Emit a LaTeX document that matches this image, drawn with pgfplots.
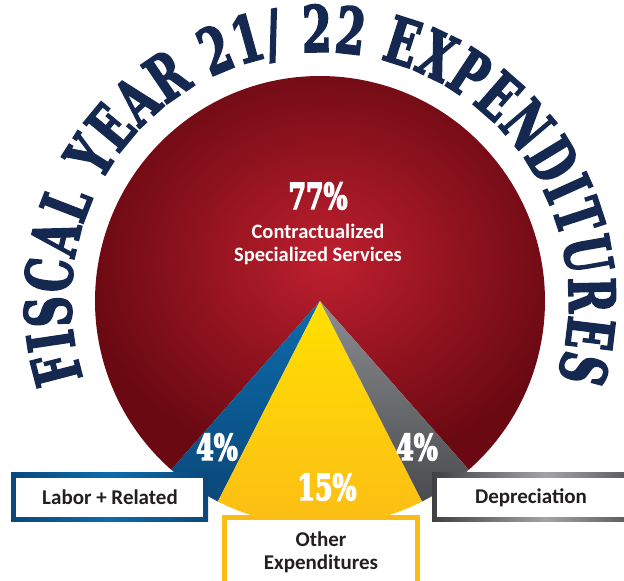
\documentclass[border=0pt]{standalone}
\usepackage{pgfplots}
\pgfplotsset{compat=1.18}
\usepackage{fontspec}
\setmainfont{Carlito}
\newfontfamily\slabfont[FakeStretch=0.7, FakeBold=3.5]{DejaVu Serif Bold}
\newfontfamily\titlefont[FakeStretch=0.66, FakeBold=2.5]{DejaVu Serif Bold}
\usetikzlibrary{decorations.text}

\definecolor{navy}{RGB}{20,40,80}
\definecolor{redin}{RGB}{190,31,46}
\definecolor{redout}{RGB}{106,9,18}
\definecolor{bluetop}{RGB}{12,108,172}
\definecolor{bluebot}{RGB}{11,72,122}
\definecolor{yeltop}{RGB}{255,224,0}
\definecolor{yelbot}{RGB}{252,188,22}
\definecolor{greytop}{RGB}{140,141,144}
\definecolor{greybot}{RGB}{74,75,78}
\definecolor{ink}{RGB}{35,31,32}

% shares in percent
\def\pContract{77}
\def\pLabor{4}
\def\pOther{15}
\def\pDepr{4}

\begin{document}
\begin{tikzpicture}
% Other Expenditures is centred at the bottom, the rest follow round
\pgfmathsetmacro\aOtherS{270-\pOther*1.8}
\pgfmathsetmacro\aOtherE{270+\pOther*1.8}
\pgfmathsetmacro\aLaborS{\aOtherS-\pLabor*3.6}
\pgfmathsetmacro\aDeprE{\aOtherE+\pDepr*3.6}
\pgfmathsetmacro\aContrE{\aDeprE+\pContract*3.6}
\def\R{225pt}
\begin{axis}[
    name=ax,
    x=1pt, y=1pt,
    xmin=0, xmax=624, ymin=0, ymax=581,
    scale only axis,
    hide axis,
]
% wedges
\shade[inner color=redin, outer color=redout]
    (axis cs:320,280) -- ++(\aDeprE:\R) arc[start angle=\aDeprE, end angle=\aContrE, radius=\R] -- cycle;
\shade[top color=bluetop, bottom color=bluebot]
    (axis cs:320,280) -- ++(\aLaborS:\R) arc[start angle=\aLaborS, end angle=\aOtherS, radius=\R] -- cycle;
\shade[top color=yeltop, bottom color=yelbot]
    (axis cs:320,280) -- ++(\aOtherS:\R) arc[start angle=\aOtherS, end angle=\aOtherE, radius=\R] -- cycle;
\shade[top color=greytop, bottom color=greybot]
    (axis cs:320,280) -- ++(\aOtherE:\R) arc[start angle=\aOtherE, end angle=\aDeprE, radius=\R] -- cycle;

% title round the top
\path[decorate, decoration={text along path, text color=navy,
    text={|\titlefont\fontsize{64}{68}\selectfont|FISCAL YEAR 21/ 22 EXPENDITURES},
    text align=fit to path}]
    (axis cs:320,280) ++(198:249pt) arc[start angle=198, end angle=-18, radius=249pt];

% values inside the pie
\node[white, font=\slabfont\fontsize{36}{38}\selectfont] at (axis cs:318,385) {\pContract\%};
\node[white, font=\bfseries\fontsize{20.5}{23}\selectfont, align=center] at (axis cs:318,337)
    {Contractualized\\Specialized Services};
\node[white, font=\slabfont\fontsize{36}{38}\selectfont] at (axis cs:217,134) {\pLabor\%};
\node[white, font=\slabfont\fontsize{36}{38}\selectfont] at (axis cs:417,134) {\pDepr\%};
\node[white, font=\slabfont\fontsize{36}{38}\selectfont] at (axis cs:327,94) {\pOther\%};

% label boxes
\shade[left color=bluebot, right color=bluebot, middle color=bluetop] (axis cs:11,59) rectangle (axis cs:208,108);
\fill[white] (axis cs:16,64) rectangle (axis cs:203,103);
\shade[left color=greybot!85!black, right color=greybot!85!black, middle color=greytop!80!white] (axis cs:432,59) rectangle (axis cs:660,108);
\fill[white] (axis cs:437,64) rectangle (axis cs:655,103);
\fill[yelbot] (axis cs:222,-20) rectangle (axis cs:420,66);
\fill[white] (axis cs:227,-15) rectangle (axis cs:415,61);

\node[ink, font=\bfseries\fontsize{21}{23}\selectfont] at (axis cs:110,83.5) {Labor + Related};
\node[ink, font=\bfseries\fontsize{21}{23}\selectfont] at (axis cs:531,83.5) {Depreciation};
\node[ink, font=\bfseries\fontsize{21}{23}\selectfont, align=center] at (axis cs:321,29) {Other\\Expenditures};
\end{axis}
\pgfresetboundingbox
\path (ax.south west) rectangle (ax.north east);
\end{tikzpicture}
\end{document}
